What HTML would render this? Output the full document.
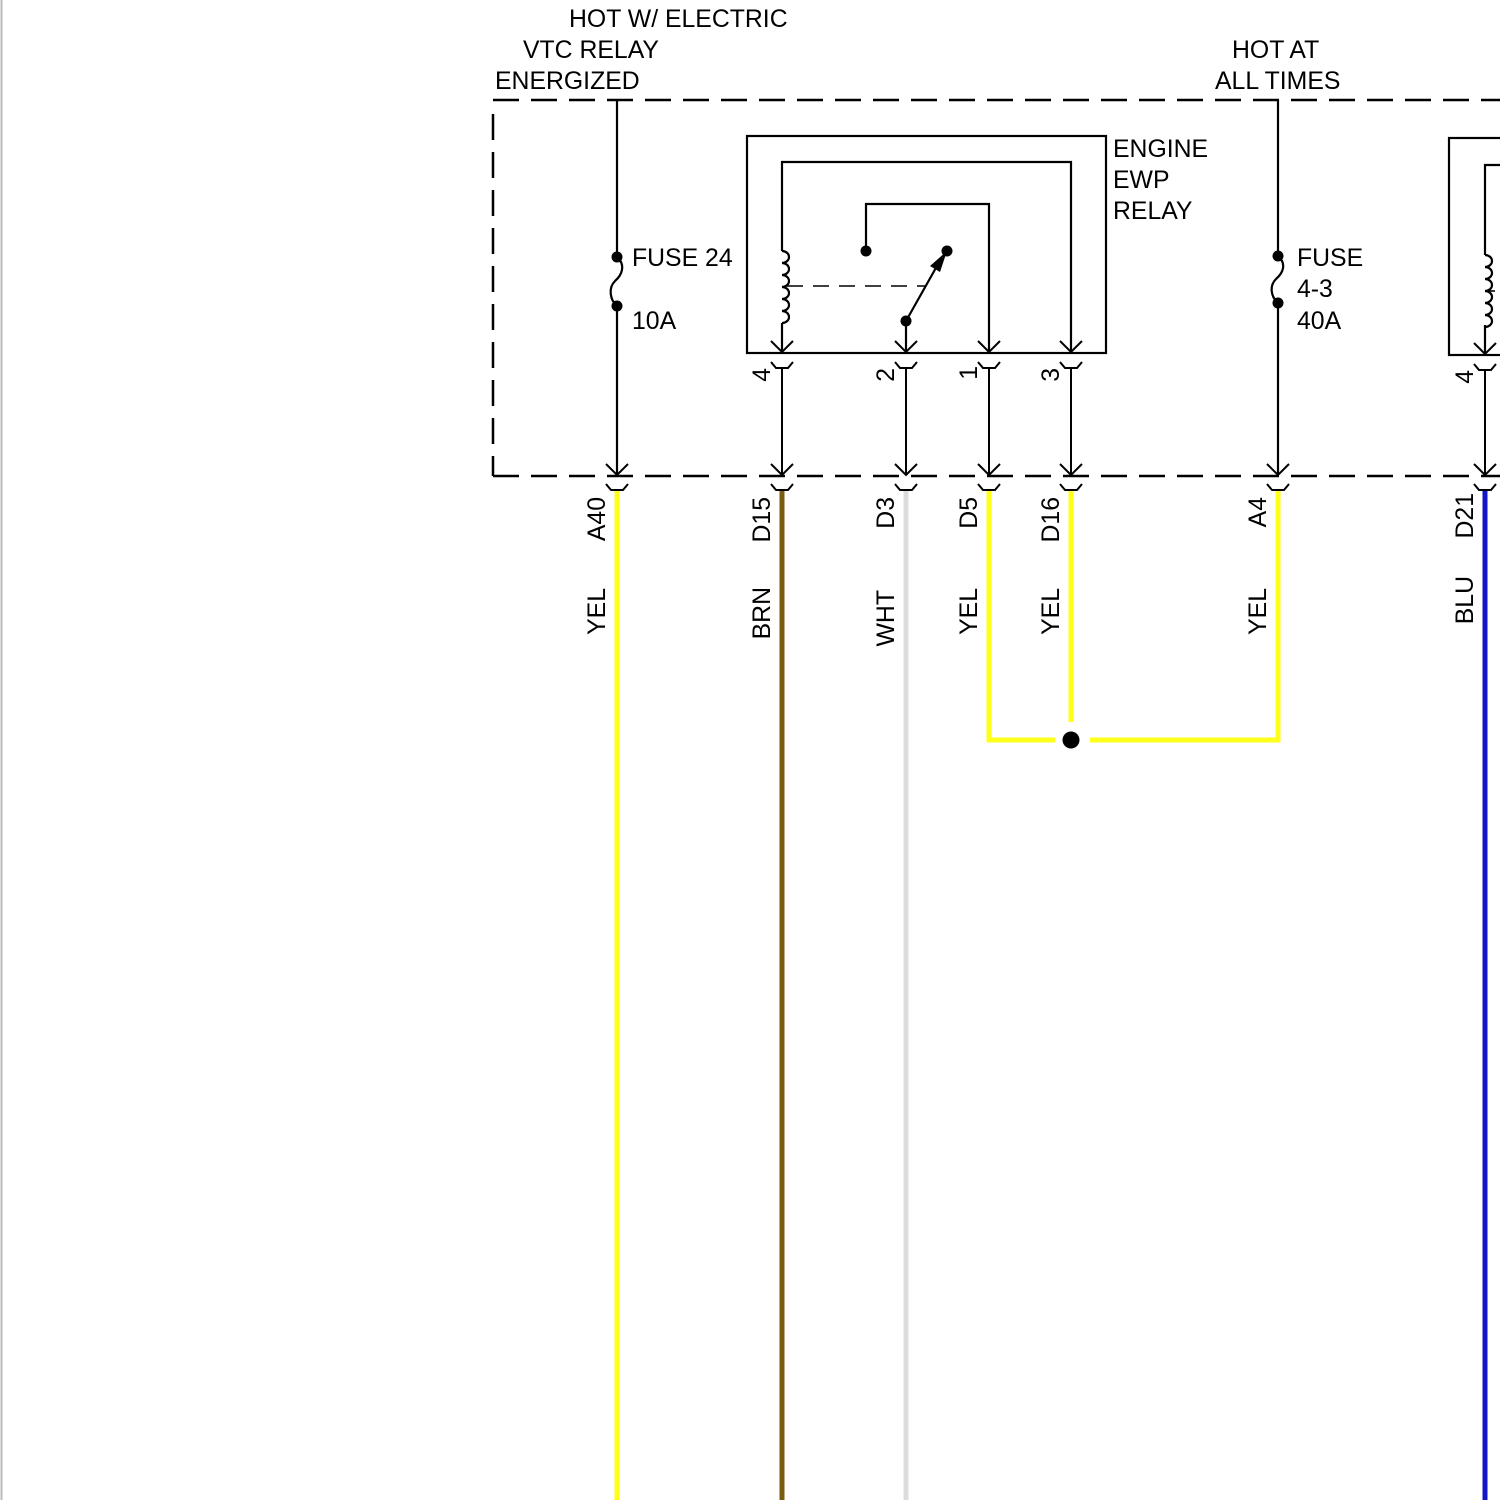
<!DOCTYPE html>
<html><head><style>
html,body{margin:0;padding:0;background:#fff;}
svg{display:block;}
text{font-family:"Liberation Sans",Arial,sans-serif;font-size:24.8px;fill:#000;}
</style></head><body>
<svg width="1500" height="1500" viewBox="0 0 1500 1500" xmlns="http://www.w3.org/2000/svg">
<line x1="1.5" y1="0" x2="1.5" y2="1500" stroke="#bbb" stroke-width="2"/>
<g stroke="#000" stroke-width="2.5" fill="none" stroke-dasharray="26,12">
<line x1="493" y1="100" x2="1500" y2="100"/>
<line x1="493" y1="114" x2="493" y2="476"/>
<line x1="493" y1="476" x2="1500" y2="476"/>
</g>
<text x="569" y="27">HOT W/ ELECTRIC</text>
<text x="523" y="58">VTC RELAY</text>
<text x="495" y="89">ENERGIZED</text>
<text x="1232" y="58">HOT AT</text>
<text x="1215" y="89">ALL TIMES</text>
<text x="1113" y="157">ENGINE</text>
<text x="1113" y="188">EWP</text>
<text x="1113" y="219">RELAY</text>
<text x="632" y="266">FUSE 24</text>
<text x="632" y="329">10A</text>
<text x="1297" y="266">FUSE</text>
<text x="1297" y="297">4-3</text>
<text x="1297" y="329">40A</text>

<g stroke="#000" stroke-width="2.2" fill="none">
<line x1="617" y1="100" x2="617" y2="257"/>
<path d="M617 257 C626 265,622 275,615 281 C608 288,610 300,617 306"/>
<line x1="617" y1="306" x2="617" y2="474"/>
<line x1="1278" y1="100" x2="1278" y2="256"/>
<path d="M1278 256 C1287 264,1283 273,1276 279 C1269 286,1271 297,1278 303"/>
<line x1="1278" y1="303" x2="1278" y2="474"/>
<rect x="747" y="136" width="359" height="217"/>
<polyline points="782,251 782,162 1071,162 1071,351"/>
<path d="M782 251 a7 6 0 0 1 0 12 a7 6 0 0 1 0 12 a7 6 0 0 1 0 12 a7 6 0 0 1 0 12 a7 6 0 0 1 0 12 a7 6 0 0 1 0 12"/>
<line x1="782" y1="323" x2="782" y2="351"/>
<line x1="787" y1="286" x2="925" y2="286" stroke-dasharray="16,10" stroke-width="1.6"/>
<polyline points="866,251 866,204 989,204 989,351"/>
<line x1="906" y1="321" x2="906" y2="351"/>
<line x1="906" y1="321" x2="937" y2="266"/>
<rect x="1449" y="138" width="80" height="217"/>
<polyline points="1485,255 1485,165 1510,165"/>
<path d="M1485 255 a7 6 0 0 1 0 12 a7 6 0 0 1 0 12 a7 6 0 0 1 0 12 a7 6 0 0 1 0 12 a7 6 0 0 1 0 12 a7 6 0 0 1 0 12"/>
<line x1="1485" y1="325" x2="1485" y2="353"/>
<line x1="1485" y1="291" x2="1500" y2="291" stroke-dasharray="10,8" stroke-width="1.6"/>
</g>
<g fill="#000">
<circle cx="617" cy="257" r="5.5"/><circle cx="617" cy="306" r="5.5"/>
<circle cx="1278" cy="256" r="5.5"/><circle cx="1278" cy="303" r="5.5"/>
<circle cx="866" cy="251" r="5.5"/><circle cx="947" cy="251" r="5.5"/><circle cx="906" cy="321" r="5.5"/>
<polygon points="947,251 930,266 940,272"/>
</g>

<g stroke="#000" stroke-width="2" fill="none">
<path d="M771 341 L782 352 L793 341 M771 362 l5 6 h12 l5 -6 M782 368 V474 M771 464 L782 475 L793 464"/>
<path d="M895 341 L906 352 L917 341 M895 362 l5 6 h12 l5 -6 M906 368 V474 M895 464 L906 475 L917 464"/>
<path d="M978 341 L989 352 L1000 341 M978 362 l5 6 h12 l5 -6 M989 368 V474 M978 464 L989 475 L1000 464"/>
<path d="M1060 341 L1071 352 L1082 341 M1060 362 l5 6 h12 l5 -6 M1071 368 V474 M1060 464 L1071 475 L1082 464"/>
<path d="M1474 343 L1485 354 L1496 343 M1474 364 l5 6 h12 l5 -6 M1485 370 V474 M1474 464 L1485 475 L1496 464"/>
<path d="M606 464 L617 475 L628 464"/>
<path d="M1267 464 L1278 475 L1289 464"/>
<path d="M606 484 l5 6 h12 l5 -6"/>
<path d="M771 484 l5 6 h12 l5 -6"/>
<path d="M895 484 l5 6 h12 l5 -6"/>
<path d="M978 484 l5 6 h12 l5 -6"/>
<path d="M1060 484 l5 6 h12 l5 -6"/>
<path d="M1267 484 l5 6 h12 l5 -6"/>
<path d="M1474 484 l5 6 h12 l5 -6"/>
</g>

<g stroke-width="5" fill="none">
<line x1="617" y1="491" x2="617" y2="1500" stroke="#ffff1a"/>
<line x1="782" y1="491" x2="782" y2="1500" stroke="#7a5c10"/>
<line x1="906" y1="491" x2="906" y2="1500" stroke="#dcdcdc"/>
<polyline points="989,491 989,740 1055,740" stroke="#ffff1a"/>
<line x1="1071" y1="491" x2="1071" y2="722" stroke="#ffff1a"/>
<polyline points="1090,740 1278,740 1278,491" stroke="#ffff1a"/>
<line x1="1485" y1="491" x2="1485" y2="1500" stroke="#1515c8"/>
</g>
<circle cx="1071" cy="740" r="8.5" fill="#000"/>

<g text-anchor="end">
<text transform="translate(770,368) rotate(-90)">4</text>
<text transform="translate(894,368) rotate(-90)">2</text>
<text transform="translate(977,366) rotate(-90)">1</text>
<text transform="translate(1059,368) rotate(-90)">3</text>
<text transform="translate(1473,370) rotate(-90)">4</text>
<text transform="translate(605,497) rotate(-90)">A40</text>
<text transform="translate(605,588) rotate(-90)">YEL</text>
<text transform="translate(770,497) rotate(-90)">D15</text>
<text transform="translate(770,587) rotate(-90)">BRN</text>
<text transform="translate(894,497) rotate(-90)">D3</text>
<text transform="translate(894,590) rotate(-90)">WHT</text>
<text transform="translate(977,497) rotate(-90)">D5</text>
<text transform="translate(977,588) rotate(-90)">YEL</text>
<text transform="translate(1059,497) rotate(-90)">D16</text>
<text transform="translate(1059,588) rotate(-90)">YEL</text>
<text transform="translate(1266,497) rotate(-90)">A4</text>
<text transform="translate(1266,588) rotate(-90)">YEL</text>
<text transform="translate(1473,493) rotate(-90)">D21</text>
<text transform="translate(1473,576) rotate(-90)">BLU</text>
</g>
</svg>
</body></html>
